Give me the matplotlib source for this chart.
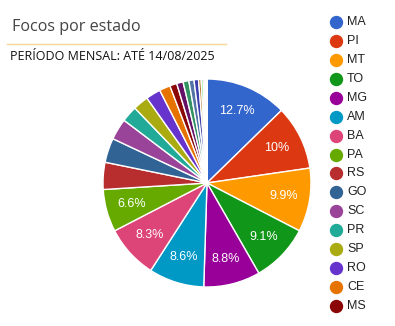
import matplotlib.pyplot as plt
from matplotlib.lines import Line2D

# state codes and share of fire hotspots (%), largest first
states = ["MA", "PI", "MT", "TO", "MG", "AM", "BA", "PA", "RS", "GO", "SC", "PR",
          "SP", "RO", "CE", "MS", "AC", "PE", "RR", "AP", "ES", "PB", "RJ", "AL",
          "RN", "SE", "DF"]
shares = [12.7, 10.0, 9.9, 9.1, 8.8, 8.6, 8.3, 6.6, 4.2, 3.8, 3.3, 2.5,
          2.4, 2.3, 1.7, 1.1, 1.0, 0.9, 0.8, 0.7, 0.4, 0.3, 0.25, 0.2,
          0.1, 0.03, 0.02]
colors = ["#3366cc", "#dc3912", "#ff9900", "#109618", "#990099", "#0099c6",
          "#dd4477", "#66aa00", "#b82e2e", "#316395", "#994499", "#22aa99",
          "#aaaa11", "#6633cc", "#e67300", "#8b0707", "#651067", "#329262",
          "#5574a6", "#3b3eac", "#b77322", "#16d620", "#b91383", "#f4359e",
          "#9c5935", "#a9c413", "#2a778d"]
n_legend = 16

W, H = 395, 326
fig = plt.figure(figsize=(W / 100, H / 100), dpi=100)

# pie centred at (207, 183) px with a 104 px radius
cx, cy, r = 207, 183, 104
ax = fig.add_axes([(cx - r) / W, (H - cy - r) / H, 2 * r / W, 2 * r / H])


def fmt_pct(p):
    if p < 5:
        return ""
    s = f"{p:.1f}"
    if s.endswith(".0"):
        s = s[:-2]
    return s + "%"


wedges, texts, autotexts = ax.pie(
    shares, colors=colors, startangle=90, counterclock=False, radius=1,
    autopct=fmt_pct, pctdistance=0.75,
    wedgeprops=dict(edgecolor="white", linewidth=1.0),
    textprops=dict(color="white", fontsize=9, family="Liberation Sans"))
ax.set_xlim(-1, 1)
ax.set_ylim(-1, 1)
ax.axis("off")

# title block
fig.text(12 / W, 1 - 31 / H, "Focos por estado", fontsize=11.6, color="#444444",
         family="Open Sans", va="baseline")
fig.add_artist(Line2D([7 / W, 226 / W], [1 - 43.7 / H, 1 - 43.7 / H],
                      color="#f9d597", linewidth=1.0))
fig.text(10 / W, 1 - 59.5 / H, "PERÍODO MENSAL: ATÉ 14/08/2025", fontsize=9.0,
         color="#111111", family="Open Sans", va="baseline")

# legend column
for i in range(n_legend):
    y = 1 - (22 + 18.93 * i) / H
    fig.add_artist(Line2D([335.7 / W], [y], marker="o", markersize=8.6,
                          color=colors[i], linestyle="none"))
    fig.text(347 / W, y, states[i], fontsize=9, color="#222222",
             family="Liberation Sans", va="center")

fig.savefig("out.png", dpi=100)
